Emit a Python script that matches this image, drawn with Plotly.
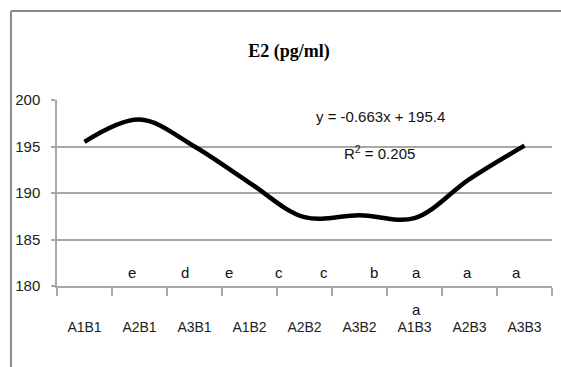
import plotly.graph_objects as go

categories = ["A1B1", "A2B1", "A3B1", "A1B2", "A2B2", "A3B2", "A1B3", "A2B3", "A3B3"]
e2_values = [195.5, 197.9, 195.0, 191.1, 187.4, 187.6, 187.3, 191.5, 195.1]
y_ticks = [180, 185, 190, 195, 200]
letters = ["e", "d", "e", "c", "c", "b", "a", "a", "a"]
letter_x = [0.86, 1.83, 2.63, 3.53, 4.35, 5.26, 6.04, 6.97, 7.86]
extra_letter = "a"
extra_letter_x = 6.04
equation_text = "y = -0.663x + 195.4"
r2_text = "R<sup>2</sup> = 0.205"
title_text = "E2 (pg/ml)"

sans = "Liberation Sans, Arial, sans-serif"
grid_col = "#a8a8a8"

fig = go.Figure()
fig.add_trace(go.Scatter(
    x=categories, y=e2_values, mode="lines",
    line=dict(color="black", width=4.5, shape="spline", smoothing=1.0),
    hoverinfo="x+y", showlegend=False,
))

annotations = []
for t, xv in zip(letters, letter_x):
    annotations.append(dict(x=xv, y=181.4, xref="x", yref="y", text=t, showarrow=False,
                            font=dict(family=sans, size=15, color="#111"),
                            xanchor="center", yanchor="middle"))
# second row letter sits below the axis, so it is placed relative to the plot area
annotations.append(dict(x=extra_letter_x, y=-0.129, xref="x", yref="paper", text=extra_letter,
                        showarrow=False, font=dict(family=sans, size=15, color="#111"),
                        xanchor="center", yanchor="middle"))
annotations.append(dict(x=5.38, y=198.2, xref="x", yref="y", text=equation_text, showarrow=False,
                        font=dict(family=sans, size=15, color="#111"), xanchor="center", yanchor="middle"))
annotations.append(dict(x=5.36, y=194.4, xref="x", yref="y", text=r2_text, showarrow=False,
                        font=dict(family=sans, size=15, color="#111"), xanchor="center", yanchor="middle"))

fig.update_layout(
    width=561, height=367,
    margin=dict(l=57, r=9, t=100, b=81),
    paper_bgcolor="white", plot_bgcolor="white",
    title=dict(text="<b>" + title_text + "</b>", x=(289 - 57) / 495, xref="paper",
               y=1 - 51 / 367, yref="container", xanchor="center", yanchor="middle",
               font=dict(family="Liberation Serif, Times New Roman, serif", size=18, color="black")),
    annotations=annotations,
    shapes=[
        dict(type="line", xref="paper", yref="paper", x0=-0.093, x1=1.02, y0=1.478, y1=1.478,
             line=dict(color="#8a8a8a", width=2)),
        dict(type="line", xref="paper", yref="paper", x0=-0.093, x1=-0.093, y0=1.478, y1=-0.44,
             line=dict(color="#8a8a8a", width=2)),
    ],
)

fig.update_xaxes(
    type="category", tickson="boundaries", ticks="outside", ticklen=8, tickcolor=grid_col,
    tickwidth=1.5, showline=True, linecolor=grid_col, linewidth=1.5, showgrid=False,
    tickfont=dict(family=sans, size=14, color="#222"), ticklabelstandoff=27,
    range=[-0.5, 8.5], zeroline=False,
)
fig.update_yaxes(
    range=[180, 200], tickvals=y_ticks, ticks="outside", ticklen=4, tickcolor=grid_col,
    tickwidth=1.5, showline=True, linecolor=grid_col, linewidth=1.5,
    showgrid=True, gridcolor=grid_col, gridwidth=1.5, zeroline=False,
    tickfont=dict(family=sans, size=15, color="#222"), ticklabelstandoff=8,
)

fig.write_html("out.html", config={"displayModeBar": False},
               post_script="document.body.style.margin='0';")
